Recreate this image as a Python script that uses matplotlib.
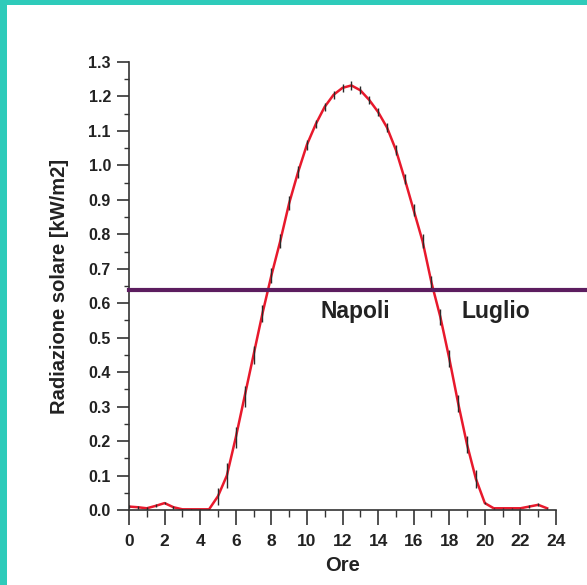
import matplotlib
matplotlib.use("Agg")
import matplotlib.pyplot as plt
from matplotlib.patches import Rectangle

plt.rcParams['font.family'] = ['Liberation Sans', 'DejaVu Sans']

hours = [0, 0.5, 1, 1.5, 2, 2.5, 3, 3.5, 4, 4.5, 5, 5.5, 6, 6.5, 7, 7.5, 8, 8.5,
         9, 9.5, 10, 10.5, 11, 11.5, 12, 12.5, 13, 13.5, 14, 14.5, 15, 15.5, 16,
         16.5, 17, 17.5, 18, 18.5, 19, 19.5, 20, 20.5, 21, 21.5, 22, 22.5, 23, 23.5]
radiation = [0.010, 0.008, 0.005, 0.012, 0.020, 0.008, 0.002, 0.002, 0.002, 0.002,
             0.040, 0.100, 0.210, 0.330, 0.450, 0.570, 0.680, 0.780, 0.890, 0.980,
             1.060, 1.120, 1.170, 1.205, 1.225, 1.232, 1.218, 1.190, 1.155, 1.110,
             1.045, 0.960, 0.870, 0.780, 0.660, 0.560, 0.440, 0.310, 0.190, 0.090,
             0.020, 0.005, 0.005, 0.005, 0.005, 0.010, 0.015, 0.005]
errors = [0.004, 0.004, 0.004, 0.004, 0.004, 0.004, 0.002, 0.002, 0.002, 0.002,
          0.025, 0.035, 0.030, 0.030, 0.025, 0.025, 0.022, 0.020, 0.020, 0.017,
          0.015, 0.012, 0.012, 0.012, 0.012, 0.012, 0.012, 0.012, 0.012, 0.012,
          0.015, 0.015, 0.017, 0.020, 0.020, 0.022, 0.025, 0.025, 0.025, 0.025,
          0.004, 0.002, 0.002, 0.002, 0.002, 0.004, 0.004, 0.002]
threshold = 0.638
x_ticks = list(range(0, 25, 2))
y_ticks = [0.0, 0.1, 0.2, 0.3, 0.4, 0.5, 0.6, 0.7, 0.8, 0.9, 1.0, 1.1, 1.2, 1.3]

W, H = 587, 585
fig = plt.figure(figsize=(W / 100, H / 100), dpi=100)
fig.patch.set_facecolor('white')

# teal frame
teal = '#2ecbba'
fig.add_artist(Rectangle((0, 1 - 5 / H), 1, 5 / H, transform=fig.transFigure,
                         color=teal, lw=0, zorder=0))
fig.add_artist(Rectangle((0, 0), 7 / W, 1, transform=fig.transFigure,
                         color=teal, lw=0, zorder=0))

left, right = 129 / W, 556 / W
bottom, top = 1 - 510 / H, 1 - 62 / H
ax = fig.add_axes([left, bottom, right - left, top - bottom])

ax.errorbar(hours, radiation, yerr=errors, fmt='none', ecolor='#2a2a2a',
            elinewidth=1.0, capsize=0, zorder=3)
ax.plot(hours, radiation, color='#e8192c', lw=1.8, zorder=2)

ax.axhline(threshold, xmin=0, xmax=(W - 129) / (556 - 129), color='#5c1d5f',
           lw=3.0, clip_on=False, zorder=4)

ax.text(12.7, 0.577, 'Napoli', fontsize=16.5, fontweight='bold',
        color='#222222', ha='center', va='center')
ax.text(20.6, 0.577, 'Luglio', fontsize=16.5, fontweight='bold',
        color='#222222', ha='center', va='center')

ax.set_xlim(0, 24)
ax.set_ylim(0, 1.3)
ax.set_xticks(x_ticks)
ax.set_xticks(range(0, 25), minor=True)
ax.set_yticks(y_ticks)
ax.set_yticks([i * 0.05 for i in range(27)], minor=True)
ax.set_xticklabels([str(t) for t in x_ticks])
ax.set_yticklabels([f'{t:.1f}' for t in y_ticks])

for s in ['top', 'right']:
    ax.spines[s].set_visible(False)
for s in ['left', 'bottom']:
    ax.spines[s].set_linewidth(1.2)
    ax.spines[s].set_color('#333333')

ax.tick_params(axis='x', which='major', length=11, width=1.2, color='#333333',
               labelsize=12.5, pad=6, labelcolor='#222222')
ax.tick_params(axis='x', which='minor', length=5, width=1.0, color='#333333')
ax.tick_params(axis='y', which='major', length=9, width=1.2, color='#333333',
               labelsize=11.5, pad=4, labelcolor='#222222')
ax.tick_params(axis='y', which='minor', length=3.5, width=1.0, color='#333333')
for lab in ax.get_xticklabels() + ax.get_yticklabels():
    lab.set_fontweight('bold')

ax.set_xlabel('Ore', fontsize=14.5, fontweight='bold', color='#222222', labelpad=5)
ax.set_ylabel('Radiazione solare [kW/m2]', fontsize=14.5, fontweight='bold',
              color='#222222', labelpad=14)

fig.savefig('out.png', dpi=100)
